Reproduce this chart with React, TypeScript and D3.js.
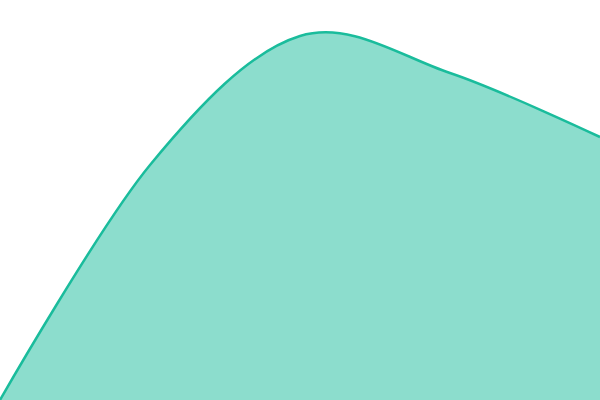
import React, { useEffect, useRef } from 'react';
import * as d3 from 'd3';

// x positions (sample index) and values
const steps = [0, 1, 2, 3, 4];
const values = [0, 235, 364, 327, 263];

const width = 600;
const height = 400;

const App: React.FC = () => {
  const svgRef = useRef<SVGSVGElement>(null);

  useEffect(() => {
    if (!svgRef.current) return;
    const svg = d3.select(svgRef.current);
    svg.selectAll('*').remove();

    const x = d3.scaleLinear().domain([0, steps.length - 1]).range([0, width]);
    const y = d3.scaleLinear().domain([0, 400]).range([height, 0]);

    const data = steps.map((s, i) => ({ s, v: values[i] }));

    const area = d3.area<{ s: number; v: number }>()
      .x(d => x(d.s))
      .y0(y(0))
      .y1(d => y(d.v))
      .curve(d3.curveCardinal);

    const line = d3.line<{ s: number; v: number }>()
      .x(d => x(d.s))
      .y(d => y(d.v))
      .curve(d3.curveCardinal);

    svg.append('path')
      .datum(data)
      .attr('d', area)
      .attr('fill', '#1abc9c')
      .attr('fill-opacity', 0.5);

    svg.append('path')
      .datum(data)
      .attr('d', line)
      .attr('fill', 'none')
      .attr('stroke', '#1abc9c')
      .attr('stroke-width', 2.5);
  }, []);

  return (
    <svg
      ref={svgRef}
      width={width}
      height={height}
      style={{ position: 'absolute', top: 0, left: 0, background: '#fff' }}
    />
  );
};

export default App;
